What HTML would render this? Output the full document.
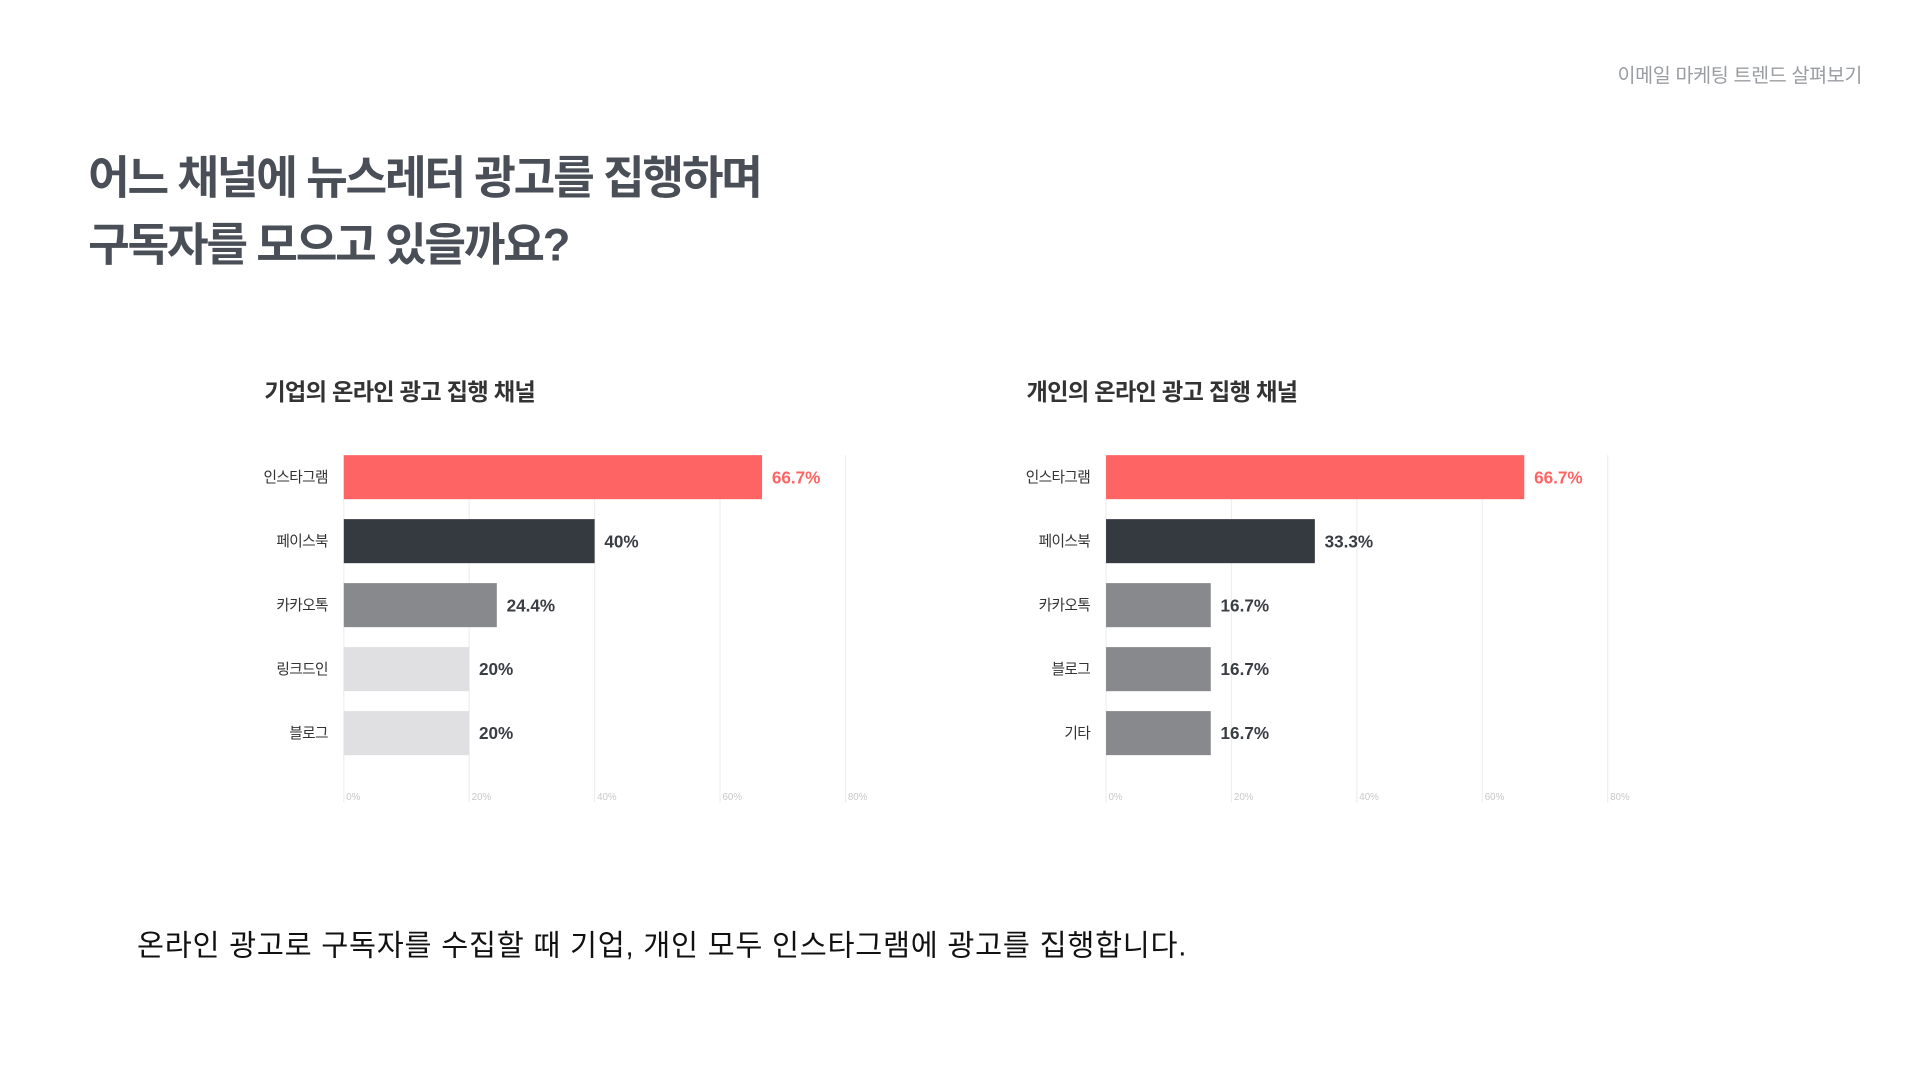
<!DOCTYPE html>
<html><head><meta charset="utf-8">
<style>
html,body{margin:0;padding:0;background:#fff;width:1920px;height:1080px;overflow:hidden}
#stage{position:absolute;left:0;top:0;width:1569px;height:883px;transform:scale(1.2235);transform-origin:0 0;font-family:"Liberation Sans","Noto Sans CJK KR",sans-serif}
.abs{position:absolute;white-space:nowrap}
</style></head><body>
<div id="stage">
  <div class="abs" style="left:1322px;top:48px;font-size:16px;color:#9a9da2;letter-spacing:-0.3px">이메일 마케팅 트렌드 살펴보기</div>
  <div class="abs" style="left:72px;top:118px;font-size:37px;font-weight:bold;color:#4a4f57;line-height:55px;letter-spacing:-1.8px">어느 채널에 뉴스레터 광고를 집행하며<br>구독자를 모으고 있을까요?</div>
  <div class="abs" style="left:216px;top:306px;font-size:19px;font-weight:bold;color:#333;letter-spacing:-0.6px">기업의 온라인 광고 집행 채널</div>
  <div class="abs" style="left:839px;top:306px;font-size:19px;font-weight:bold;color:#333;letter-spacing:-0.6px">개인의 온라인 광고 집행 채널</div>
  <svg id="charts" class="abs" style="left:0;top:0" width="1569" height="883"></svg>
  <div class="abs" style="left:112px;top:753px;font-size:24px;color:#111;letter-spacing:0.6px">온라인 광고로 구독자를 수집할 때 기업, 개인 모두 인스타그램에 광고를 집행합니다.</div>
</div>
<script>
const ticks=[0,20,40,60,80];
const tickLabels=["0%","20%","40%","60%","80%"];
const companyCats=["인스타그램","페이스북","카카오톡","링크드인","블로그"];
const companyVals=[66.7,40,24.4,20,20];
const companyLabels=["66.7%","40%","24.4%","20%","20%"];
const companyColors=["#ff6464","#353940","#87898c","#e0e0e3","#e0e0e3"];
const indivCats=["인스타그램","페이스북","카카오톡","블로그","기타"];
const indivVals=[66.7,33.3,16.7,16.7,16.7];
const indivLabels=["66.7%","33.3%","16.7%","16.7%","16.7%"];
const indivColors=["#ff6464","#353940","#87898c","#87898c","#87898c"];
const NS="http://www.w3.org/2000/svg";
const svg=document.getElementById('charts');
function mk(t,a){const e=document.createElementNS(NS,t);for(const k in a)e.setAttribute(k,a[k]);return e;}
function draw(x0,cats,vals,labels,colors,prefix){
  const xs=v=>x0+v*(410/80);
  const yTop=372,pitch=52.3,bh=36;
  const ys=i=>yTop+i*pitch;
  ticks.forEach((t,i)=>{
    const l=mk('line',{x1:xs(t),x2:xs(t),y1:372,y2:656,stroke:'#efefef','stroke-width':1});
    
    
    svg.appendChild(l);
    const tx=mk('text',{x:xs(t)+2,y:654,'font-size':8,fill:'#c8c8c8'});
    
    
    tx.textContent=tickLabels[i];svg.appendChild(tx);
  });
  cats.forEach((c,i)=>{
    const r=mk('rect',{x:xs(0),y:ys(i),width:xs(vals[i])-xs(0),height:bh,fill:colors[i]});
    
    
    svg.appendChild(r);
    const cl=mk('text',{x:x0-13,y:ys(i)+bh/2+4,'font-size':12,fill:'#333','text-anchor':'end','letter-spacing':'-0.5'});
    
    
    cl.textContent=c;svg.appendChild(cl);
    const vl=mk('text',{x:xs(vals[i])+8,y:ys(i)+bh/2+5,'font-size':14,'font-weight':'bold',fill:i===0?'#ff6464':'#3a3d42'});
    
    
    vl.textContent=labels[i];svg.appendChild(vl);
  });
}
draw(281,companyCats,companyVals,companyLabels,companyColors,'company');
draw(904,indivCats,indivVals,indivLabels,indivColors,'individual');
</script>
</body></html>
